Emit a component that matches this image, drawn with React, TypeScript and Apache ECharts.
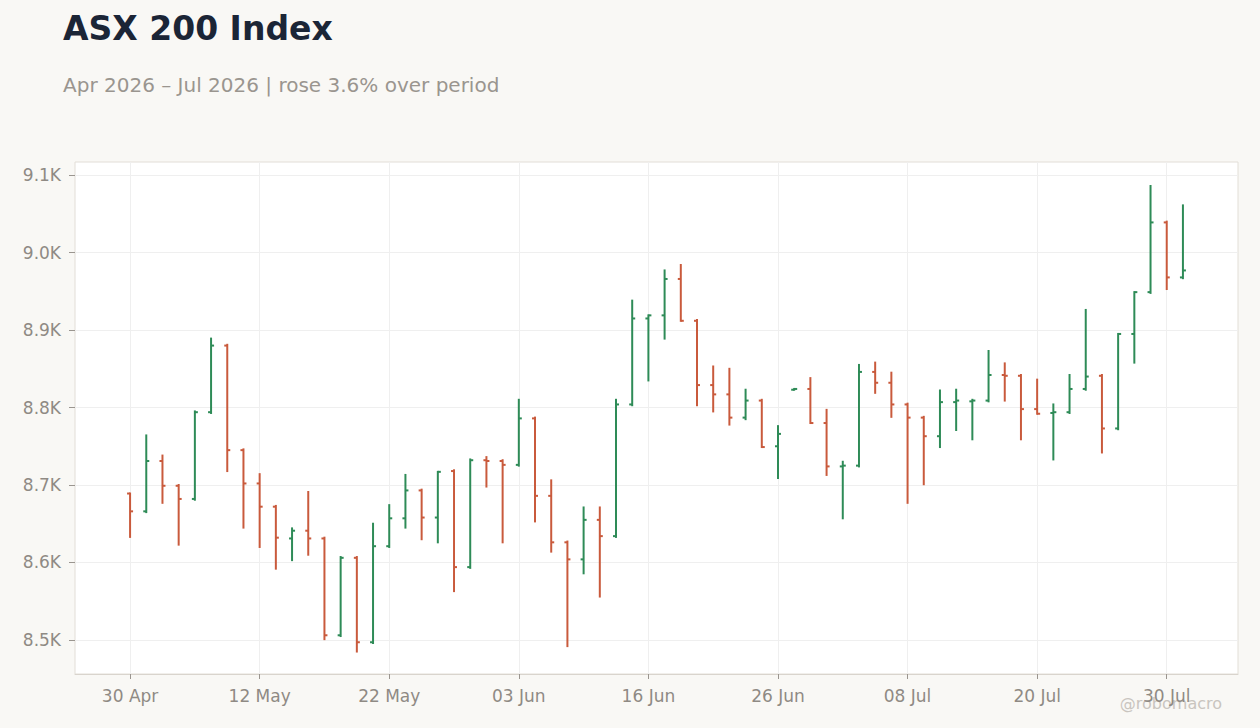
import React, { useEffect, useRef } from "react";
import * as echarts from "echarts";

const dates = [
  "30 Apr", "01 May", "04 May", "05 May", "06 May", "07 May", "08 May", "11 May", "12 May", "13 May",
  "14 May", "15 May", "18 May", "19 May", "20 May", "21 May", "22 May", "25 May", "26 May", "27 May",
  "28 May", "29 May", "01 Jun", "02 Jun", "03 Jun", "04 Jun", "05 Jun", "09 Jun", "10 Jun", "11 Jun",
  "12 Jun", "15 Jun", "16 Jun", "17 Jun", "18 Jun", "19 Jun", "22 Jun", "23 Jun", "24 Jun", "25 Jun",
  "26 Jun", "29 Jun", "30 Jun", "01 Jul", "02 Jul", "03 Jul", "06 Jul", "07 Jul", "08 Jul", "09 Jul",
  "10 Jul", "13 Jul", "14 Jul", "15 Jul", "16 Jul", "17 Jul", "20 Jul", "21 Jul", "22 Jul", "23 Jul",
  "24 Jul", "27 Jul", "28 Jul", "29 Jul", "30 Jul", "31 Jul",
];

const opens = [
  8689, 8666, 8731, 8699, 8682, 8794, 8880, 8745, 8702, 8672,
  8631, 8641, 8631, 8506, 8606, 8497, 8621, 8657, 8693, 8658,
  8718, 8594, 8732, 8731, 8726, 8786, 8686, 8626, 8604, 8655,
  8634, 8804, 8915, 8919, 8966, 8912, 8829, 8817, 8787, 8809,
  8750, 8823, 8824, 8780, 8724, 8725, 8846, 8832, 8804, 8787,
  8763, 8807, 8808, 8809, 8842, 8841, 8798, 8793, 8794, 8824,
  8841, 8773, 8895, 8949, 9039, 8968,
];
const highs = [
  8689, 8764, 8738, 8700, 8795, 8889, 8881, 8746, 8714, 8673,
  8644, 8691, 8632, 8607, 8607, 8650, 8674, 8713, 8694, 8717,
  8719, 8733, 8736, 8732, 8810, 8787, 8706, 8627, 8671, 8671,
  8810, 8938, 8919, 8977, 8984, 8913, 8853, 8850, 8823, 8810,
  8776, 8824, 8838, 8797, 8730, 8855, 8858, 8845, 8805, 8788,
  8822, 8823, 8810, 8873, 8857, 8842, 8836, 8804, 8842, 8926,
  8842, 8895, 8949, 9086, 9040, 9061,
];
const lows = [
  8633, 8665, 8677, 8623, 8681, 8793, 8718, 8645, 8620, 8592,
  8603, 8610, 8501, 8505, 8485, 8496, 8620, 8645, 8630, 8626,
  8563, 8593, 8698, 8626, 8725, 8653, 8614, 8492, 8586, 8556,
  8633, 8803, 8835, 8889, 8912, 8803, 8795, 8778, 8785, 8749,
  8709, 8823, 8780, 8713, 8657, 8724, 8819, 8788, 8677, 8701,
  8749, 8771, 8759, 8808, 8809, 8759, 8792, 8733, 8793, 8823,
  8742, 8772, 8858, 8948, 8953, 8967,
];
const closes = [
  8666, 8731, 8699, 8682, 8794, 8880, 8745, 8702, 8672, 8632,
  8641, 8631, 8506, 8606, 8497, 8621, 8657, 8693, 8658, 8717,
  8594, 8732, 8731, 8726, 8786, 8686, 8626, 8604, 8655, 8634,
  8804, 8915, 8919, 8966, 8912, 8829, 8817, 8787, 8809, 8749,
  8766, 8824, 8780, 8724, 8725, 8846, 8832, 8804, 8787, 8763,
  8807, 8809, 8809, 8842, 8841, 8798, 8792, 8794, 8824, 8840,
  8773, 8895, 8949, 9039, 8968, 8977,
];

const yTicks = [8500, 8600, 8700, 8800, 8900, 9000, 9100];
const xTickIdx = [0, 8, 16, 24, 32, 40, 48, 56, 64];

const TITLE = "ASX 200 Index";
const SUBTITLE = "Apr 2026 – Jul 2026 | rose 3.6% over period";
const WATERMARK = "@robomacro";

const UP = "#2e8b57";
const DOWN = "#c95a3c";
const FONT = "DejaVu Sans, sans-serif";

export default function App() {
  const ref = useRef<HTMLDivElement>(null);
  useEffect(() => {
    document.body.style.margin = "0";
    const chart = echarts.init(ref.current!, undefined, { renderer: "svg" });
    const data = dates.map((_, i) => [i, opens[i], highs[i], lows[i], closes[i]]);
    chart.setOption({
      animation: false,
      backgroundColor: "#f9f8f5",
      textStyle: { fontFamily: FONT },
      grid: {
        left: 75,
        right: 22,
        top: 162,
        bottom: 54,
        show: true,
        backgroundColor: "#ffffff",
        borderColor: "#e2ded7",
        borderWidth: 1,
      },
      xAxis: {
        type: "value",
        min: -3.4,
        max: 68.4,
        axisLine: { show: true, onZero: false, lineStyle: { color: "#d9d4cd", width: 1 } },
        axisTick: {
          show: true,
          customValues: xTickIdx,
          length: 5,
          lineStyle: { color: "#9a958f" },
        },
        axisLabel: {
          customValues: xTickIdx,
          formatter: (v: number) => dates[Math.round(v)] ?? "",
          color: "#8f8a84",
          fontSize: 17,
          fontFamily: FONT,
          margin: 13,
        },
        splitLine: { show: true, lineStyle: { color: "#efefef", width: 1 } },
      },
      yAxis: {
        type: "value",
        min: 8456,
        max: 9117,
        axisLine: { show: false, onZero: false },
        axisTick: {
          show: true,
          customValues: yTicks,
          length: 6,
          lineStyle: { color: "#9a958f" },
        },
        axisLabel: {
          customValues: yTicks,
          formatter: (v: number) => (v / 1000).toFixed(1) + "K",
          color: "#8f8a84",
          fontSize: 17,
          fontFamily: FONT,
          margin: 14,
        },
        splitLine: { show: true, lineStyle: { color: "#efefef", width: 1 } },
      },
      series: [
        {
          type: "custom",
          data,
          encode: { x: 0, y: [1, 2, 3, 4] },
          renderItem: (params: any, api: any) => {
            const i = api.value(0);
            const o = api.value(1);
            const h = api.value(2);
            const l = api.value(3);
            const c = api.value(4);
            const x = api.coord([i, o])[0];
            const yo = api.coord([i, o])[1];
            const yh = api.coord([i, h])[1];
            const yl = api.coord([i, l])[1];
            const yc = api.coord([i, c])[1];
            const color = c >= o ? UP : DOWN;
            const st = { stroke: color, lineWidth: 2, lineCap: "butt" };
            return {
              type: "group",
              children: [
                { type: "line", shape: { x1: x, y1: yh - 1, x2: x, y2: yl + 1 }, style: st },
                { type: "line", shape: { x1: x - 3, y1: yo, x2: x, y2: yo }, style: st },
                { type: "line", shape: { x1: x, y1: yc, x2: x + 3, y2: yc }, style: st },
              ],
            };
          },
        },
      ],
      graphic: [
        {
          type: "text",
          left: 63,
          top: 12,
          style: {
            text: TITLE,
            fontFamily: FONT,
            fontSize: 33,
            fontWeight: "bold",
            fill: "#1b2536",
          },
        },
        {
          type: "text",
          left: 63,
          top: 75,
          style: {
            text: SUBTITLE,
            fontFamily: FONT,
            fontSize: 20,
            fill: "#9a958f",
          },
        },
        {
          type: "text",
          right: 38,
          top: 695,
          style: {
            text: WATERMARK,
            fontFamily: FONT,
            fontSize: 16,
            fill: "#c9c5bf",
          },
        },
      ],
    });
    return () => chart.dispose();
  }, []);
  return (
    <div
      ref={ref}
      style={{ position: "fixed", left: 0, top: 0, width: 1260, height: 728 }}
    />
  );
}
